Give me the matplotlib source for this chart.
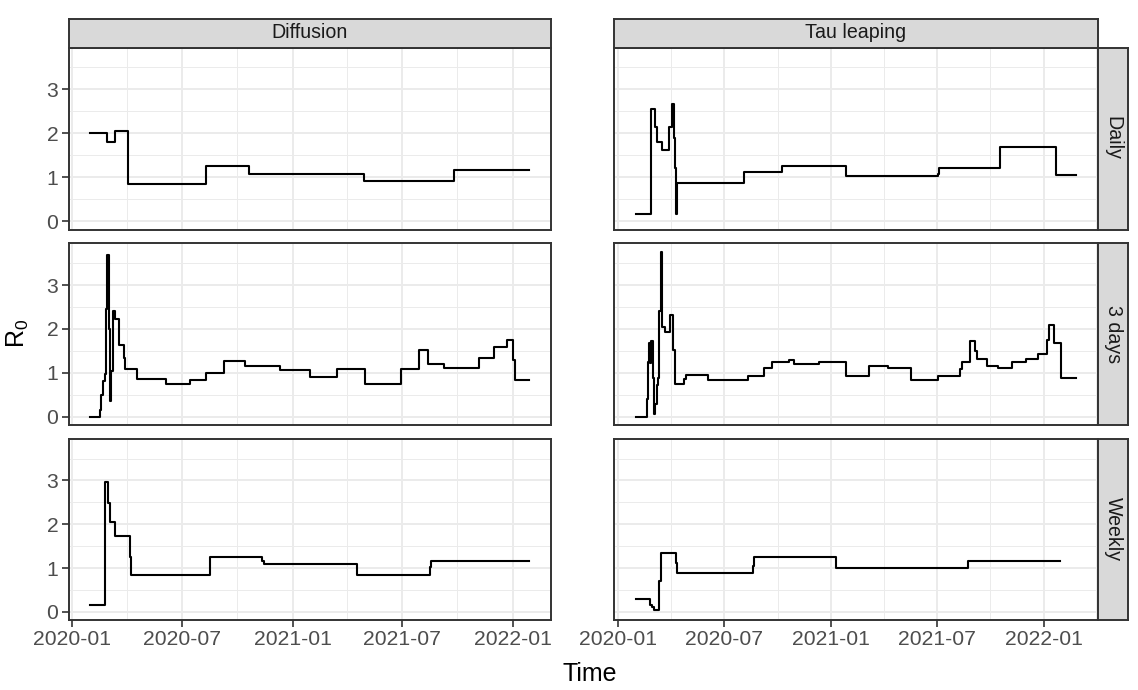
import matplotlib
matplotlib.use("Agg")
import matplotlib.pyplot as plt
import matplotlib.dates as mdates
import pandas as pd

plt.rcParams["font.family"] = ["Liberation Sans", "DejaVu Sans"]
plt.rcParams["mathtext.fontset"] = "custom"
plt.rcParams["mathtext.rm"] = "Liberation Sans"
plt.rcParams["mathtext.it"] = "Liberation Sans"

# ---- step series: change dates and R0 value from that date on ----
diffusion_daily_dates = ["2020-01-31", "2020-02-28", "2020-03-12", "2020-04-03", "2020-08-10",
                         "2020-10-20", "2021-04-29", "2021-09-25", "2022-01-28"]
diffusion_daily_r0 = [2.00, 1.80, 2.05, 0.84, 1.25, 1.08, 0.92, 1.17, 1.17]

tau_daily_dates = ["2020-01-31", "2020-02-27", "2020-03-04", "2020-03-08", "2020-03-16",
                   "2020-03-29", "2020-04-03", "2020-04-06", "2020-04-08", "2020-04-09",
                   "2020-04-10", "2020-04-11", "2020-08-05", "2020-10-09", "2021-01-26",
                   "2021-07-03", "2021-07-05", "2021-10-17", "2022-01-22", "2022-02-25"]
tau_daily_r0 = [0.16, 2.54, 2.14, 1.80, 1.61, 2.14, 2.66, 1.90, 1.20, 1.05,
                0.16, 0.88, 1.12, 1.25, 1.02, 1.08, 1.21, 1.69, 1.04, 1.04]

diffusion_3days_dates = ["2020-01-31", "2020-02-16", "2020-02-18", "2020-02-21", "2020-02-24",
                         "2020-02-26", "2020-02-28", "2020-03-01", "2020-03-03", "2020-03-05",
                         "2020-03-08", "2020-03-11", "2020-03-18", "2020-03-26", "2020-03-28",
                         "2020-04-17", "2020-06-04", "2020-07-15", "2020-08-10", "2020-09-08",
                         "2020-10-14", "2020-12-11", "2021-01-29", "2021-03-15", "2021-05-01",
                         "2021-06-30", "2021-07-30", "2021-08-14", "2021-09-08", "2021-11-06",
                         "2021-11-30", "2021-12-22", "2022-01-01", "2022-01-04", "2022-01-28"]
diffusion_3days_r0 = [0.00, 0.165, 0.49, 0.82, 0.98, 2.46, 3.68, 2.01, 0.35, 1.04,
                      2.40, 2.22, 1.63, 1.33, 1.08, 0.87, 0.75, 0.84, 1.00, 1.28,
                      1.15, 1.07, 0.91, 1.08, 0.75, 1.08, 1.51, 1.20, 1.11, 1.33,
                      1.59, 1.76, 1.29, 0.84, 0.84]

tau_3days_dates = ["2020-01-31", "2020-02-19", "2020-02-21", "2020-02-23", "2020-02-25",
                   "2020-02-27", "2020-03-01", "2020-03-03", "2020-03-05", "2020-03-08",
                   "2020-03-10", "2020-03-12", "2020-03-15", "2020-03-17", "2020-03-21",
                   "2020-03-30", "2020-04-05", "2020-04-08", "2020-04-23", "2020-04-26",
                   "2020-06-04", "2020-08-11", "2020-09-07", "2020-09-21", "2020-10-20",
                   "2020-10-29", "2020-12-11", "2021-01-26", "2021-03-06", "2021-04-09",
                   "2021-05-17", "2021-07-03", "2021-08-10", "2021-08-13", "2021-08-27",
                   "2021-09-05", "2021-09-08", "2021-09-26", "2021-10-15", "2021-11-07",
                   "2021-12-02", "2021-12-21", "2022-01-06", "2022-01-10", "2022-01-18",
                   "2022-01-30", "2022-02-25"]
tau_3days_r0 = [0.00, 0.41, 1.25, 1.69, 1.22, 1.72, 0.88, 0.07, 0.30, 0.73,
                0.88, 2.40, 3.76, 2.04, 1.92, 2.32, 1.52, 0.75, 0.86, 0.95,
                0.84, 0.92, 1.12, 1.25, 1.29, 1.20, 1.25, 0.92, 1.16, 1.12,
                0.84, 0.92, 1.08, 1.25, 1.72, 1.50, 1.32, 1.16, 1.12, 1.25,
                1.32, 1.44, 1.76, 2.08, 1.68, 0.88, 0.88]

diffusion_weekly_dates = ["2020-01-31", "2020-02-24", "2020-02-29", "2020-03-03", "2020-03-11",
                          "2020-04-06", "2020-04-08", "2020-08-16", "2020-11-11", "2020-11-14",
                          "2021-04-17", "2021-08-16", "2021-08-19", "2022-01-28"]
diffusion_weekly_r0 = [0.165, 2.96, 2.49, 2.04, 1.73, 1.25, 0.84, 1.25, 1.16, 1.09,
                       0.84, 1.03, 1.16, 1.16]

tau_weekly_dates = ["2020-01-31", "2020-02-24", "2020-02-28", "2020-03-03", "2020-03-11",
                    "2020-03-14", "2020-04-09", "2020-04-11", "2020-08-19", "2020-08-22",
                    "2021-01-09", "2021-08-24", "2022-01-28"]
tau_weekly_r0 = [0.30, 0.165, 0.11, 0.045, 0.71, 1.34, 1.12, 0.88, 1.05, 1.25,
                 1.01, 1.16, 1.16]

methods = ["Diffusion", "Tau leaping"]
schedules = ["Daily", "3 days", "Weekly"]
series = {
    ("Daily", "Diffusion"): (diffusion_daily_dates, diffusion_daily_r0),
    ("Daily", "Tau leaping"): (tau_daily_dates, tau_daily_r0),
    ("3 days", "Diffusion"): (diffusion_3days_dates, diffusion_3days_r0),
    ("3 days", "Tau leaping"): (tau_3days_dates, tau_3days_r0),
    ("Weekly", "Diffusion"): (diffusion_weekly_dates, diffusion_weekly_r0),
    ("Weekly", "Tau leaping"): (tau_weekly_dates, tau_weekly_r0),
}

major_ticks = ["2020-01-01", "2020-07-01", "2021-01-01", "2021-07-01", "2022-01-01"]
major_labels = ["2020-01", "2020-07", "2021-01", "2021-07", "2022-01"]
minor_ticks = ["2019-10-01", "2020-04-01", "2020-10-01", "2021-04-01", "2021-10-01", "2022-04-01"]
y_ticks = [0, 1, 2, 3]
y_minor = [0.5, 1.5, 2.5, 3.5]


def to_num(dates):
    return mdates.date2num(pd.to_datetime(dates))


def expand(lo, hi, frac=0.05):
    pad = (hi - lo) * frac
    return lo - pad, hi + pad


# free x per column, shared y (ggplot-style 5% expansion)
xlims = {}
for m in methods:
    xs = [v for s in schedules for v in to_num(series[(s, m)][0])]
    xlims[m] = expand(min(xs), max(xs))
all_y = [v for k in series for v in series[k][1]]
ylim = expand(min(all_y), max(all_y))

W, H = 1138, 690
fig = plt.figure(figsize=(W / 100, H / 100), dpi=100)


def frame(x0, y0, x1, y1):
    return [x0 / W, 1 - y1 / H, (x1 - x0) / W, (y1 - y0) / H]


col_px = [(68.5, 551), (613.5, 1098)]
row_px = [(47.5, 229.5), (243.5, 425), (439, 620)]
strip_top = 18.5
strip_right = 1128

BORDER = "#333333"
GRID = "#EBEBEB"
STRIP = "#D9D9D9"
TICKTXT = "#4D4D4D"
FS = 15.2


def style_box(a):
    for sp in a.spines.values():
        sp.set_color(BORDER)
        sp.set_linewidth(1.4)


for i, s in enumerate(schedules):
    for j, m in enumerate(methods):
        x0, x1 = col_px[j]
        y0, y1 = row_px[i]
        ax = fig.add_axes(frame(x0, y0, x1, y1))
        d, v = series[(s, m)]
        ax.step(to_num(d), v, where="post", color="black", lw=1.5, zorder=3)
        lo, hi = xlims[m]
        minors = [t for t in to_num(minor_ticks) if lo <= t <= hi]
        ax.set_xticks(to_num(major_ticks))
        ax.set_xticks(minors, minor=True)
        ax.set_yticks(y_ticks)
        ax.set_yticks(y_minor, minor=True)
        ax.set_xlim(lo, hi)
        ax.set_ylim(*ylim)
        ax.grid(which="major", color=GRID, lw=1.4, zorder=0)
        ax.grid(which="minor", color=GRID, lw=0.7, zorder=0)
        ax.set_axisbelow(True)
        style_box(ax)
        ax.tick_params(which="minor", length=0)
        ax.tick_params(which="major", length=4.8, width=1.2, color=BORDER,
                       labelsize=FS, labelcolor=TICKTXT, pad=2.5)
        if i == len(schedules) - 1:
            ax.set_xticklabels(major_labels)
        else:
            ax.tick_params(axis="x", which="major", length=0, labelbottom=False)
        if j == 0:
            ax.set_yticklabels([str(t) for t in y_ticks])
        else:
            ax.tick_params(axis="y", which="major", length=0, labelleft=False)

        # top strips
        if i == 0:
            sax = fig.add_axes(frame(x0, strip_top, x1, y0))
            sax.set_facecolor(STRIP)
            sax.set_xticks([])
            sax.set_yticks([])
            style_box(sax)
            sax.text(0.5, 0.5, m, ha="center", va="center", fontsize=FS * 0.93,
                     color="#1A1A1A", transform=sax.transAxes)
        # right strips
        if j == len(methods) - 1:
            sax = fig.add_axes(frame(x1, y0, strip_right, y1))
            sax.set_facecolor(STRIP)
            sax.set_xticks([])
            sax.set_yticks([])
            style_box(sax)
            sax.text(0.5, 0.5, s, ha="center", va="center", rotation=-90,
                     fontsize=FS * 0.93, color="#1A1A1A", transform=sax.transAxes)

fig.text(18 / W, 1 - 333 / H, r"$\mathregular{R_0}$", rotation=90, ha="center",
         va="center", fontsize=18, color="black")
fig.text(590 / W, 1 - 674 / H, "Time", ha="center", va="center", fontsize=18,
         color="black")

fig.savefig("out.png", dpi=100, facecolor="white")
